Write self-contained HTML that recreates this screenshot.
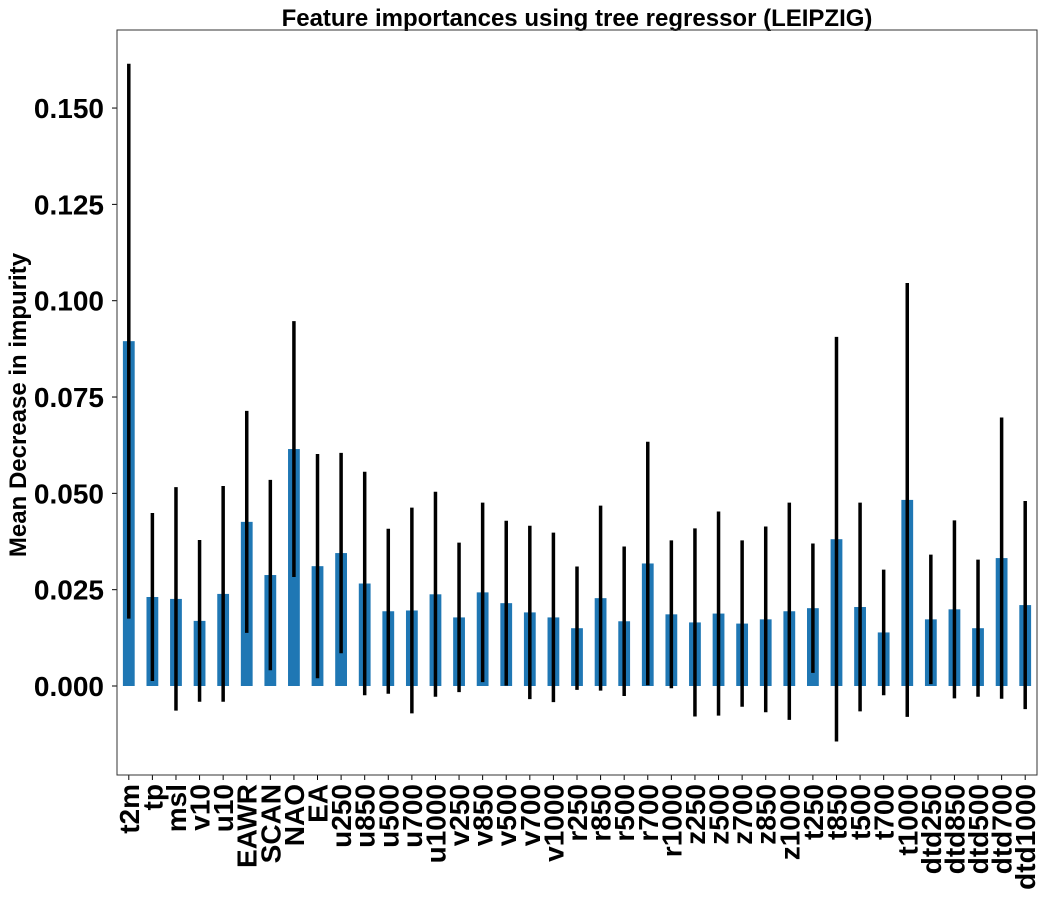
<!DOCTYPE html>
<html><head><meta charset="utf-8"><style>
html,body{margin:0;padding:0;background:#fff;}
svg{display:block;font-family:"Liberation Sans",Arial,sans-serif;font-weight:bold;}
</style></head><body>
<svg id="chart" width="1045" height="902" xmlns="http://www.w3.org/2000/svg"></svg>
<script>
const categories = ["t2m","tp","msl","v10","u10","EAWR","SCAN","NAO","EA","u250","u850","u500","u700","u1000","v250","v850","v500","v700","v1000","r250","r850","r500","r700","r1000","z250","z500","z700","z850","z1000","t250","t850","t500","t700","t1000","dtd250","dtd850","dtd500","dtd700","dtd1000"];
const importances = [0.0895,0.0231,0.0226,0.0169,0.0239,0.0426,0.0288,0.0615,0.0311,0.0345,0.0266,0.0194,0.0196,0.0238,0.0178,0.0243,0.0215,0.0191,0.0178,0.0150,0.0228,0.0168,0.0318,0.0186,0.0165,0.0188,0.0162,0.0173,0.0194,0.0202,0.0381,0.0205,0.0139,0.0483,0.0173,0.0199,0.0150,0.0332,0.0210];
const errors = [0.0720,0.0218,0.0290,0.0210,0.0280,0.0288,0.0247,0.0332,0.0291,0.0260,0.0290,0.0214,0.0267,0.0266,0.0194,0.0233,0.0214,0.0225,0.0220,0.0160,0.0240,0.0194,0.0316,0.0192,0.0244,0.0265,0.0216,0.0241,0.0282,0.0168,0.0525,0.0271,0.0163,0.0563,0.0168,0.0231,0.0178,0.0365,0.0270];
const yTicks = [0,0.025,0.05,0.075,0.1,0.125,0.15];
const yTickLabels = ["0.000","0.025","0.050","0.075","0.100","0.125","0.150"];

const NS="http://www.w3.org/2000/svg";
const svg=document.getElementById('chart');
const L=117,R=1037,T=30,B=775;
const n=categories.length;
const step=(R-L)/n;
function xPos(i){return L+(i+0.5)*step;}
const y0=686, pxPerUnit=3853;
function yPos(v){return y0-v*pxPerUnit;}
function mk(tag,attrs){const e=document.createElementNS(NS,tag);for(const k in attrs)e.setAttribute(k,attrs[k]);svg.appendChild(e);return e;}

// title
let t=mk('text',{x:(L+R)/2,y:26,'text-anchor':'middle','font-size':'24'});
t.textContent='Feature importances using tree regressor (LEIPZIG)';



// y axis title
t=mk('text',{x:0,y:0,'text-anchor':'middle','font-size':'24',transform:'translate(26,405) rotate(-90)'});
t.textContent='Mean Decrease in impurity';



// bars and error bars
const bw=step*0.5;
categories.forEach((c,i)=>{
  const v=importances[i], e=errors[i], cx=xPos(i);
  const r=mk('rect',{x:cx-bw/2,y:Math.min(yPos(v),y0),width:bw,height:Math.abs(y0-yPos(v)),fill:'#1f77b4'});
  
  
  const l=mk('line',{x1:cx,x2:cx,y1:yPos(v+e),y2:yPos(v-e),stroke:'#000','stroke-width':3.5});
  
  
  const tk=mk('line',{x1:cx,x2:cx,y1:B,y2:B+5,stroke:'#000','stroke-width':1});
  
  
  const lb=mk('text',{x:0,y:0,'text-anchor':'end','font-size':'28',transform:`translate(${cx+10},${B+9}) rotate(-90)`});
  lb.textContent=c;
  
  
});

// y ticks
yTicks.forEach((v,i)=>{
  const yy=yPos(v);
  const tk=mk('line',{x1:L-5,x2:L,y1:yy,y2:yy,stroke:'#000','stroke-width':1});
  
  
  const lb=mk('text',{x:L-13,y:yy+10,'text-anchor':'end','font-size':'28'});
  lb.textContent=yTickLabels[i];
  
  
});

// frame
const fr=mk('rect',{x:L,y:T,width:R-L,height:B-T,fill:'none',stroke:'#333','stroke-width':1});


</script>
</body></html>
